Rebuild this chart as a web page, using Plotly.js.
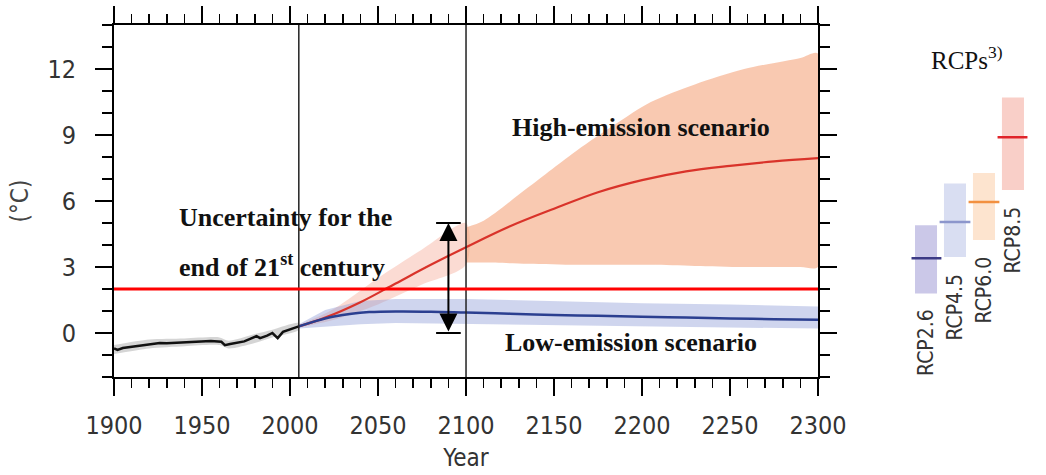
<!DOCTYPE html>
<html>
<head>
<meta charset="utf-8">
<script src="https://cdn.plot.ly/plotly-3.0.1.min.js"></script>
<style>html,body{margin:0;padding:0;background:#fff;}#chart{width:1046px;height:475px;}</style>
</head>
<body>
<div id="chart"></div>
<script>
// ---- data ----
const histYears = [1900,1902,1905,1909,1912,1916,1920,1926,1930,1936,1940,1945,1950,1955,1961,1963,1966,1970,1974,1977,1981,1983,1987,1990,1993,1996,2000,2005];
const histVals  = [-0.7,-0.77,-0.68,-0.63,-0.6,-0.55,-0.5,-0.45,-0.47,-0.45,-0.43,-0.4,-0.38,-0.36,-0.4,-0.55,-0.5,-0.45,-0.38,-0.28,-0.14,-0.23,-0.12,0.0,-0.23,0.05,0.15,0.3];
const histBandYears = [1900,1920,1940,1960,1965,1980,1990,2005];
const histBandLow   = [-0.95,-0.7,-0.6,-0.55,-0.7,-0.45,-0.2,0.15];
const histBandHigh  = [-0.55,-0.3,-0.25,-0.2,-0.35,-0.05,0.15,0.45];

const highYears = [2005,2020,2040,2060,2080,2100,2125,2150,2175,2200,2225,2250,2275,2300];
const highVals  = [0.3,0.7,1.4,2.25,3.1,3.9,4.85,5.65,6.4,6.95,7.35,7.6,7.8,7.95];
const highBand1Years = [2005,2025,2050,2075,2100];
const highBand1Low   = [0.25,0.6,1.3,2.2,3.1];
const highBand1High  = [0.35,1.1,2.5,3.8,5.0];
const highBand2Years = [2100,2110,2135,2163,2185,2205,2230,2258,2290,2300];
const highBand2Low   = [3.2,3.2,3.15,3.1,3.1,3.1,3.05,3.0,3.0,3.0];
const highBand2High  = [4.8,5.1,6.6,8.3,9.5,10.5,11.3,12.0,12.5,12.7];

const lowYears = [2005,2015,2025,2035,2045,2060,2080,2100,2125,2150,2175,2200,2225,2250,2275,2300];
const lowVals  = [0.3,0.55,0.75,0.88,0.95,0.98,0.97,0.93,0.88,0.82,0.78,0.74,0.7,0.66,0.63,0.6];
const lowBandYears = [2005,2020,2040,2060,2100,2150,2200,2250,2300];
const lowBandLow   = [0.2,0.3,0.4,0.45,0.4,0.35,0.3,0.25,0.2];
const lowBandHigh  = [0.4,1.05,1.45,1.55,1.55,1.45,1.35,1.3,1.2];

const refYears = [2005, 2100];
const threshold = 2;
const arrowYear = 2090;
const uncertaintyRange = [0, 5];

const rcpNames = ['RCP2.6','RCP4.5','RCP6.0','RCP8.5'];
const rcpLow   = [1.8, 3.45, 4.23, 6.5];
const rcpHigh  = [4.9, 6.8, 7.27, 10.7];
const rcpMid   = [3.4, 5.05, 5.95, 8.9];

const xTickVals = [1900,1950,2000,2050,2100,2150,2200,2250,2300];
const yTickVals = [0,3,6,9,12];

// ---- helpers ----
function band(xs, lo, hi, color, smooth) {
  return {
    x: xs.concat(xs.slice().reverse()),
    y: hi.concat(lo.slice().reverse()),
    type: 'scatter', mode: 'lines', fill: 'toself',
    fillcolor: color, line: {width: 0, shape: smooth ? 'spline' : 'linear', smoothing: 0.8}, hoverinfo: 'skip'
  };
}

const traces = [
  band(histBandYears, histBandLow, histBandHigh, 'rgba(150,150,150,0.4)', true),
  band(highBand1Years, highBand1Low, highBand1High, 'rgba(246,170,150,0.42)', true),
  band(highBand2Years, highBand2Low, highBand2High, 'rgba(245,165,125,0.6)', true),
  band(lowBandYears, lowBandLow, lowBandHigh, 'rgba(140,155,215,0.42)', false),
  {x: histYears, y: histVals, type: 'scatter', mode: 'lines', line: {color: '#111', width: 2.5}},
  {x: highYears, y: highVals, type: 'scatter', mode: 'lines', line: {color: '#d9332a', width: 2.2, shape: 'spline'}},
  {x: lowYears, y: lowVals, type: 'scatter', mode: 'lines', line: {color: '#2b3f90', width: 2.5, shape: 'spline'}},
  {x: rcpNames, base: rcpLow, y: rcpHigh.map((h, i) => h - rcpLow[i]), type: 'bar',
   width: 0.76, marker: {color: ['#cbc8e8','#d9def2','#fde4cf','#f9cfc8'], line: {width: 0}},
   xaxis: 'x2', yaxis: 'y2', hoverinfo: 'skip'},
  {x: rcpNames, y: rcpMid, type: 'scatter', mode: 'markers', xaxis: 'x2', yaxis: 'y2',
   marker: {symbol: 'line-ew', size: 22, line: {width: 2.5, color: ['#3c3a85','#8c96cc','#f29040','#e0242a']}}}
];

const serifFont = {family: 'Liberation Serif, DejaVu Serif, serif', size: 26, color: '#111'};
const tickFont = {family: 'DejaVu Sans Condensed, DejaVu Sans, sans-serif', size: 25, color: '#333'};

const shapes = [
  ...refYears.map(yr => ({type: 'line', xref: 'x', yref: 'paper', x0: yr, x1: yr, y0: 0, y1: 1,
    line: {color: '#222', width: 1.5}})),
  {type: 'line', xref: 'x', yref: 'y', x0: xTickVals[0], x1: xTickVals[xTickVals.length-1], y0: threshold, y1: threshold,
    line: {color: '#ff0000', width: 3}},
  ...uncertaintyRange.map(v => ({type: 'line', xref: 'x', yref: 'y', x0: arrowYear - 7, x1: arrowYear + 7, y0: v, y1: v,
    line: {color: '#000', width: 2}}))
];

const annotations = [
  {x: arrowYear, y: uncertaintyRange[1], ax: arrowYear, ay: uncertaintyRange[0], xref: 'x', yref: 'y', axref: 'x', ayref: 'y',
   text: '', showarrow: true, arrowhead: 2, arrowside: 'end+start', arrowsize: 1.8, arrowwidth: 2, arrowcolor: '#000'},
  {x: 2125, y: 9.36, xref: 'x', yref: 'y', xanchor: 'left', text: '<b>High-emission scenario</b>', showarrow: false, font: serifFont},
  {x: 1936, y: 5.25, xref: 'x', yref: 'y', xanchor: 'left', text: '<b>Uncertainty for the</b>', showarrow: false, font: serifFont},
  {x: 1936, y: 3.05, xref: 'x', yref: 'y', xanchor: 'left', text: '<b>end of 21<sup>st</sup> century</b>', showarrow: false, font: serifFont},
  {x: 2121, y: -0.45, xref: 'x', yref: 'y', xanchor: 'left', text: '<b>Low-emission scenario</b>', showarrow: false, font: serifFont},
  {x: 1.4, y: 12.5, xref: 'x2', yref: 'y2', text: 'RCPs<sup>3)</sup>', showarrow: false,
   font: {family: 'Liberation Serif, DejaVu Serif, serif', size: 25, color: '#111'}},
  ...rcpNames.map((n, i) => ({x: n, y: rcpLow[i], xref: 'x2', yref: 'y2', yanchor: 'top', yshift: -14,
    text: n, textangle: -90, showarrow: false,
    font: {family: 'DejaVu Sans Condensed, DejaVu Sans, sans-serif', size: 21, color: '#333'}}))
];

const layout = {
  width: 1046, height: 475,
  margin: {l: 114, r: 0, t: 25, b: 98},
  paper_bgcolor: '#fff', plot_bgcolor: '#fff',
  showlegend: false,
  xaxis: {
    domain: [0, 0.7554], range: [1900, 2300], tickvals: xTickVals,
    showgrid: false, zeroline: false, showline: true, linecolor: '#000', linewidth: 2,
    mirror: 'ticks', ticks: 'outside', ticklen: 17, tickwidth: 2, tickcolor: '#000',
    minor: {dtick: 10, ticks: 'outside', ticklen: 9, tickwidth: 1.5, tickcolor: '#000', showgrid: false},
    tickfont: tickFont, ticklabelstandoff: 8,
    title: {text: 'Year', font: {family: 'DejaVu Sans Condensed, DejaVu Sans, sans-serif', size: 24, color: '#333'}, standoff: 10}
  },
  yaxis: {
    range: [-2, 14], tickvals: yTickVals,
    showgrid: false, zeroline: false, showline: true, linecolor: '#000', linewidth: 2,
    mirror: 'ticks', ticks: 'outside', ticklen: 17, tickwidth: 2, tickcolor: '#000',
    minor: {dtick: 1, ticks: 'outside', ticklen: 10, tickwidth: 1.5, tickcolor: '#000', showgrid: false},
    tickfont: tickFont, ticklabelstandoff: 14,
    title: {text: '(°C)', font: {family: 'DejaVu Sans Condensed, DejaVu Sans, sans-serif', size: 24, color: '#444'}, standoff: 12}
  },
  xaxis2: {domain: [0.8557, 0.9801], anchor: 'y2', type: 'category', range: [-0.5, 3.5], visible: false, fixedrange: true},
  yaxis2: {domain: [0, 1], anchor: 'x2', range: [-2, 14], visible: false, fixedrange: true},
  shapes: shapes,
  annotations: annotations
};

Plotly.newPlot('chart', traces, layout, {staticPlot: true, displayModeBar: false});
</script>
</body>
</html>
